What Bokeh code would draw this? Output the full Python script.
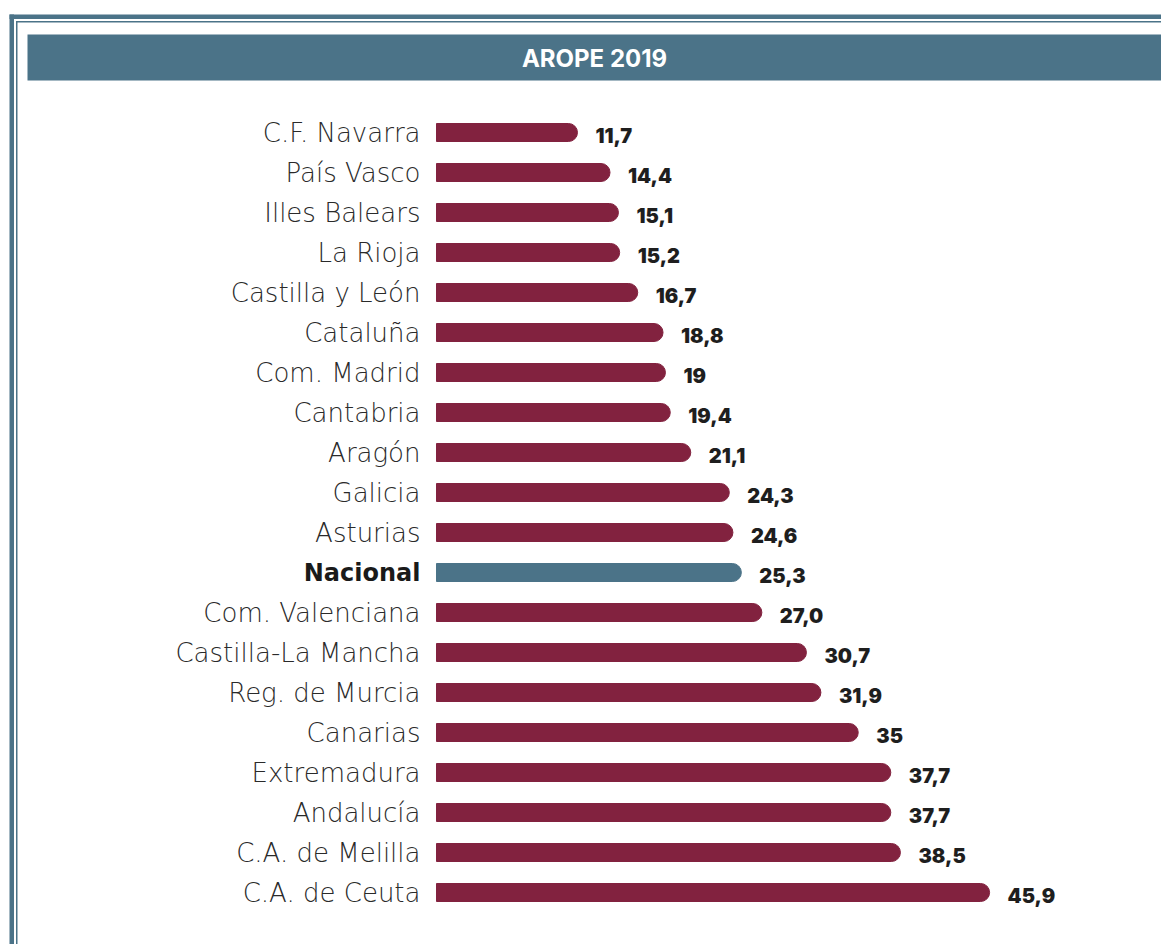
from bokeh.plotting import figure
from bokeh.models import Range1d, ColumnDataSource, BoxAnnotation, Label
from bokeh.core.properties import value, field
from bokeh.embed import file_html
from bokeh.resources import INLINE

# ---- data ----
regions = ["C.F. Navarra", "País Vasco", "Illes Balears", "La Rioja", "Castilla y León",
           "Cataluña", "Com. Madrid", "Cantabria", "Aragón", "Galicia", "Asturias",
           "Nacional", "Com. Valenciana", "Castilla-La Mancha", "Reg. de Murcia",
           "Canarias", "Extremadura", "Andalucía", "C.A. de Melilla", "C.A. de Ceuta"]
values = [11.7, 14.4, 15.1, 15.2, 16.7, 18.8, 19.0, 19.4, 21.1, 24.3, 24.6,
          25.3, 27.0, 30.7, 31.9, 35.0, 37.7, 37.7, 38.5, 45.9]
value_labels = ["11,7", "14,4", "15,1", "15,2", "16,7", "18,8", "19", "19,4", "21,1", "24,3",
                "24,6", "25,3", "27,0", "30,7", "31,9", "35", "37,7", "37,7", "38,5", "45,9"]
title_text = "AROPE 2019"

MAROON = "#82223f"
BLUE = "#4b7388"

W, H = 1161, 944
X0 = 436          # pixel of value 0
SX = 12.05        # px per unit
ROW = 40          # px per row
Y0 = 132          # pixel of first row centre

x_start = -X0 / SX
x_end = (W - X0) / SX
y_top = -Y0 / ROW
y_bottom = (H - Y0) / ROW

def px2x(px):
    return x_start + px / SX

def px2y(py):
    return y_top + py / ROW

idx = list(range(len(regions)))
colors = [BLUE if r == "Nacional" else MAROON for r in regions]
styles = ["bold" if r == "Nacional" else "normal" for r in regions]
fonts = ["DejaVu Sans" if r == "Nacional" else "DejaVu Sans Light" for r in regions]
sizes = ["24px" if r == "Nacional" else "26px" for r in regions]
lcolors = ["#1a1a1a" if r == "Nacional" else "#2a2a2a" for r in regions]

src = ColumnDataSource(dict(y=idx, v=values, name=regions, lab=value_labels,
                            color=colors, style=styles, font=fonts, size=sizes,
                            lcolor=lcolors, zero=[0] * len(idx)))

p = figure(width=W, height=H, output_backend="svg", toolbar_location=None,
           x_range=Range1d(x_start, x_end), y_range=Range1d(y_bottom, y_top),
           min_border=0, min_border_left=0, min_border_right=0,
           min_border_top=0, min_border_bottom=0)
p.axis.visible = False
p.grid.visible = False
p.outline_line_color = None
p.background_fill_color = "white"
p.border_fill_color = "white"

# frame decorations (double border and title band)
p.add_layout(BoxAnnotation(left=px2x(9), right=px2x(13.5), top=px2y(14), bottom=y_bottom,
                           fill_color=BLUE, fill_alpha=1, line_color=None))
p.add_layout(BoxAnnotation(left=px2x(9), right=x_end, top=px2y(14), bottom=px2y(18.5),
                           fill_color=BLUE, fill_alpha=1, line_color=None))
p.add_layout(BoxAnnotation(left=px2x(15.5), right=px2x(17), top=px2y(20.5), bottom=y_bottom,
                           fill_color=BLUE, fill_alpha=1, line_color=None))
p.add_layout(BoxAnnotation(left=px2x(15.5), right=x_end, top=px2y(20.5), bottom=px2y(22),
                           fill_color=BLUE, fill_alpha=1, line_color=None))
p.add_layout(BoxAnnotation(left=px2x(27), right=px2x(1163), top=px2y(34), bottom=px2y(80),
                           fill_color=BLUE, fill_alpha=1, line_color=None))
p.add_layout(Label(x=px2x(594), y=px2y(58), text=title_text, text_align="center",
                   text_baseline="middle", text_color="white", text_font_style="bold",
                   text_font="Inter", text_font_size="24px"))

# bars
p.hbar(y="y", left="zero", right="v", height=0.45, color="color", source=src,
       border_radius=(0, 9, 9, 0))

# category labels
p.text(x="zero", y="y", text="name", source=src, x_offset=-16, text_align="right",
       text_baseline="middle", text_font=field("font"), text_font_size=field("size"),
       text_font_style=field("style"), text_color="lcolor")

# value labels
p.text(x="v", y="y", text="lab", source=src, x_offset=18, y_offset=3, text_align="left",
       text_baseline="middle", text_font=value("Inter Black"), text_font_size="20px",
       text_font_style="bold", text_color="#1e1e1e")

open("out.html", "w").write(file_html(p, INLINE))
